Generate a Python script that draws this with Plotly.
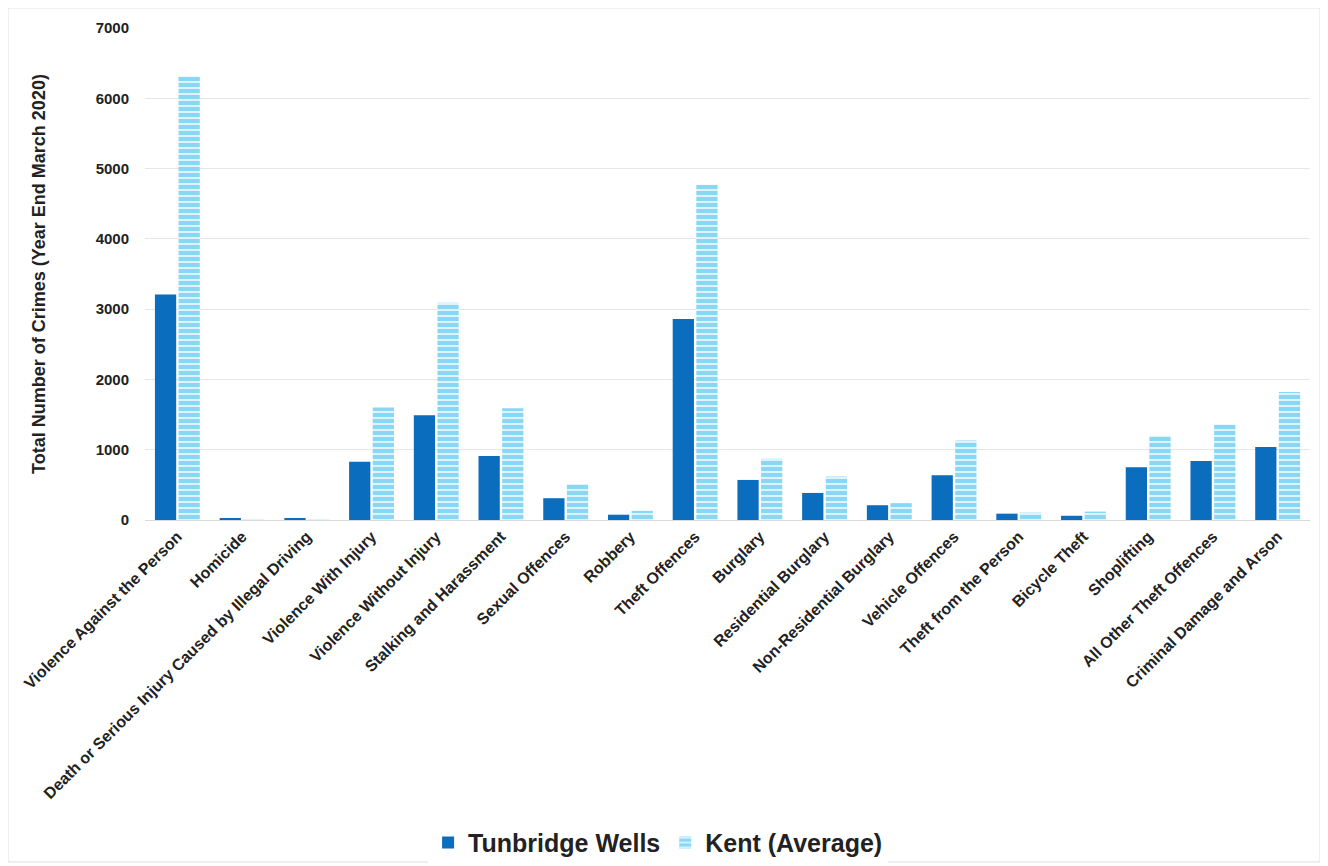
import plotly.graph_objects as go

categories = [
    "Violence Against the Person", "Homicide",
    "Death or Serious Injury Caused by Illegal Driving",
    "Violence With Injury", "Violence Without Injury", "Stalking and Harassment",
    "Sexual Offences", "Robbery", "Theft Offences", "Burglary",
    "Residential Burglary", "Non-Residential Burglary", "Vehicle Offences",
    "Theft from the Person", "Bicycle Theft", "Shoplifting",
    "All Other Theft Offences", "Criminal Damage and Arson",
]
tunbridge_wells = [3210, 25, 25, 830, 1490, 910, 310, 75, 2860, 570, 385, 210, 635, 90, 60, 750, 840, 1040]
kent_average = [6310, 3, 3, 1600, 3090, 1590, 510, 130, 4770, 870, 620, 240, 1130, 105, 120, 1200, 1360, 1820]
y_ticks = [0, 1000, 2000, 3000, 4000, 5000, 6000, 7000]

FONT = "Liberation Sans, Arial, sans-serif"

fig = go.Figure()
fig.add_trace(go.Bar(
    name="Tunbridge Wells", x=categories, y=tunbridge_wells,
    marker=dict(color="#0B6DBE", line=dict(width=0)),
))
fig.add_trace(go.Bar(
    name="Kent (Average)", x=categories, y=kent_average,
    marker=dict(color="white", line=dict(width=0),
                pattern=dict(shape="-", fgcolor="#14B0EA", bgcolor="white",
                             size=6, solidity=0.76)),
))

fig.update_layout(
    width=1328, height=866,
    paper_bgcolor="white", plot_bgcolor="white",
    barmode="group", bargap=0.27, bargroupgap=0.1,
    margin=dict(l=137, r=26, t=20, b=354, autoexpand=False),
    font=dict(family=FONT, color="#222222"),
    legend=dict(orientation="h", x=0.243, xanchor="left",
                yref="container", y=0.036, yanchor="middle",
                font=dict(size=25, weight="bold", family=FONT, color="#222222"),
                itemwidth=30),
    xaxis=dict(tickangle=-45, tickfont=dict(size=16, weight="bold", family=FONT),
               showline=True, linecolor="#D9D9D9", ticks="", showgrid=False),
    yaxis=dict(range=[0, 7000], tickvals=y_ticks, showgrid=True, gridcolor="#E6E6E6",
               zeroline=False, ticks="outside", ticklen=12, tickcolor="rgba(0,0,0,0)",
               tickfont=dict(size=15, weight="bold", family=FONT),
               title=dict(text="Total Number of Crimes (Year End March 2020)",
                          font=dict(size=18, weight="bold", family=FONT), standoff=45)),
)

fig.add_shape(type="rect", xref="paper", yref="paper", x0=-0.1176, x1=1.0086,
              y0=-0.695, y1=1.0407, line=dict(color="#E0E0E0", width=1))

fig.write_html("out.html")
